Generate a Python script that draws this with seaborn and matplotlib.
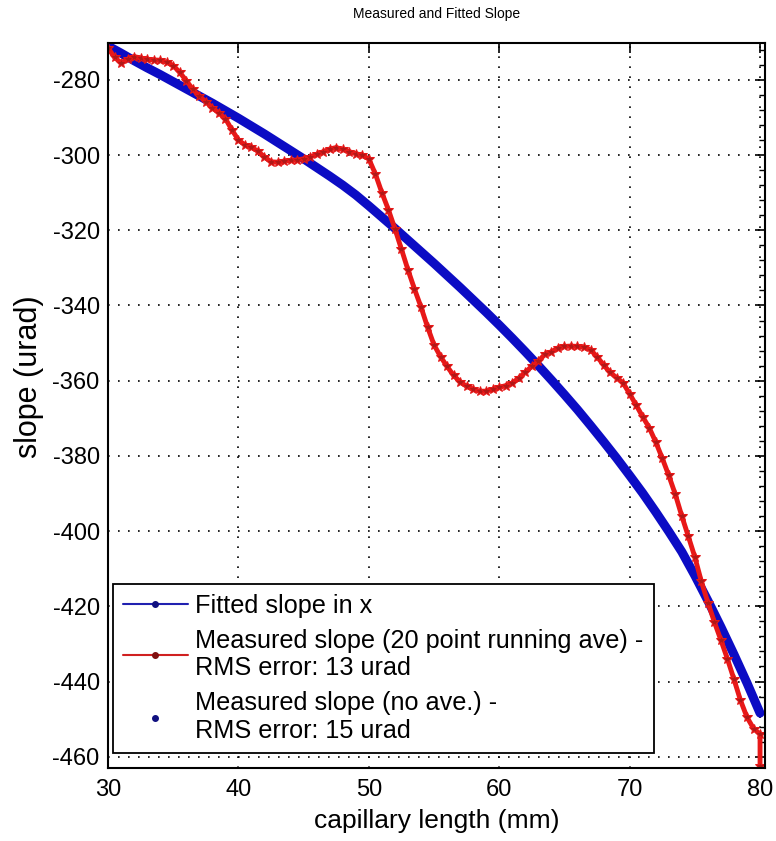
import numpy as np
import pandas as pd
import matplotlib
matplotlib.use("Agg")
import matplotlib.pyplot as plt
from matplotlib.lines import Line2D
from matplotlib.ticker import MultipleLocator, AutoMinorLocator
import seaborn as sns

# fitted slope (urad), one value per mm
fit_x = np.arange(30, 81, 1)
fit_y = [-271.0, -272.9, -274.9, -276.8, -278.6, -280.5, -282.4, -284.3, -286.2, -288.2,
         -290.2, -292.3, -294.4, -296.6, -298.8, -301.0, -303.3, -305.6, -308.0, -310.6,
         -313.5, -316.5, -319.5, -322.6, -325.7, -328.8, -332.0, -335.2, -338.5, -341.8,
         -345.2, -348.7, -352.3, -356.0, -359.8, -363.7, -367.7, -371.9, -376.2, -380.6,
         -385.2, -389.9, -394.9, -400.1, -405.5, -411.8, -418.5, -425.5, -432.8, -440.4,
         -448.4]

# measured slope, 20 point running average, every 0.5 mm (last point: drop at the end)
meas_x = np.append(np.arange(30, 80.5, 0.5), 80.0)
meas_y = [-271.5, -274.0, -275.5, -274.5, -273.8, -274.2, -274.5, -274.7, -274.8, -275.3,
          -276.2, -278.0, -280.2, -282.5, -284.3, -285.8, -287.4, -288.8, -290.3, -293.3,
          -296.0, -297.3, -297.9, -299.0, -300.5, -301.8, -301.9, -301.6, -301.4, -301.3,
          -301.0, -300.5, -299.8, -299.1, -298.4, -298.0, -298.5, -299.1, -299.6, -300.1,
          -301.0, -305.0, -310.0, -314.5, -319.6, -325.0, -330.5, -335.6, -340.4, -345.7,
          -350.5, -353.6, -356.2, -358.6, -360.3, -361.5, -362.3, -362.8, -362.8, -362.3,
          -361.8, -361.3, -360.6, -359.3, -357.7, -356.2, -354.8, -353.0, -352.3, -351.3,
          -350.9, -350.8, -350.9, -351.1, -351.8, -353.6, -355.8, -357.8, -359.2, -360.6,
          -363.5, -366.5, -369.6, -372.5, -376.3, -380.6, -385.2, -390.2, -396.0, -401.4,
          -406.9, -413.4, -419.0, -424.2, -429.0, -434.0, -439.4, -445.0, -449.5, -452.5,
          -454.0, -462.5]

labels = ["Fitted slope in x",
          "Measured slope (20 point running ave) -\nRMS error: 13 urad",
          "Measured slope (no ave.) -\nRMS error: 15 urad"]

sns.set_style("white")
plt.rcParams['font.family'] = ['Liberation Sans', 'DejaVu Sans']
plt.rcParams['axes.unicode_minus'] = False
plt.rcParams['text.color'] = 'black'
plt.rcParams['axes.labelcolor'] = 'black'

df_fit = pd.DataFrame({'x': fit_x, 'y': fit_y})
df_meas = pd.DataFrame({'x': meas_x, 'y': meas_y})

fig = plt.figure(figsize=(7.76, 8.41), dpi=100)
ax = fig.add_axes([108/776, 1-768/841, 657/776, 725/841])

sns.lineplot(data=df_fit, x='x', y='y', ax=ax, color='#0c0cc4', linewidth=6.5,
             estimator=None, sort=False)
sns.lineplot(data=df_meas, x='x', y='y', ax=ax, color='#e81818', linewidth=3.5,
             marker='*', markersize=7, markerfacecolor='#b01818', markeredgecolor='#e81818',
             estimator=None, sort=False)

ax.set_xlim(30, 80.38)
ax.set_ylim(-463, -270.2)
ax.xaxis.set_major_locator(MultipleLocator(10))
ax.yaxis.set_major_locator(MultipleLocator(20))
ax.yaxis.set_minor_locator(AutoMinorLocator(5))
ax.tick_params(which='both', direction='in', top=True, right=True, colors='black',
               labelsize=17)
ax.tick_params(which='major', length=7, width=1.2)
ax.tick_params(which='minor', length=4, width=1)
ax.tick_params(axis='x', pad=8)
ax.tick_params(axis='y', pad=6)
ax.grid(True, which='major', color='black', linestyle=(0, (1, 5)), linewidth=1.2)
for s in ax.spines.values():
    s.set_color('black')
    s.set_linewidth(1.5)

ax.set_title("Measured and Fitted Slope", fontsize=10, pad=18, color='black')
ax.set_xlabel("capillary length (mm)", fontsize=19, labelpad=6)
ax.set_ylabel("slope (urad)", fontsize=22)
ax.yaxis.set_label_coords(-0.097, 0.54)

handles = [Line2D([], [], color='#2020b0', lw=1.5, marker='.', markersize=8,
                  markerfacecolor='#101080', markeredgecolor='#101080'),
           Line2D([], [], color='#d02020', lw=1.5, marker='.', markersize=8,
                  markerfacecolor='#801010', markeredgecolor='#801010'),
           Line2D([], [], color='none', lw=0, marker='.', markersize=8,
                  markerfacecolor='#101080', markeredgecolor='#101080')]
leg = ax.legend(handles, labels, loc='lower left', bbox_to_anchor=(0.0076, 0.0207),
                borderaxespad=0, fontsize=18.2, frameon=True, fancybox=False,
                framealpha=1, edgecolor='black', handlelength=2.55, handletextpad=0.3,
                labelspacing=0.42, borderpad=0.4)
leg.get_frame().set_linewidth(1.3)

plt.savefig('out.png', dpi=100)
